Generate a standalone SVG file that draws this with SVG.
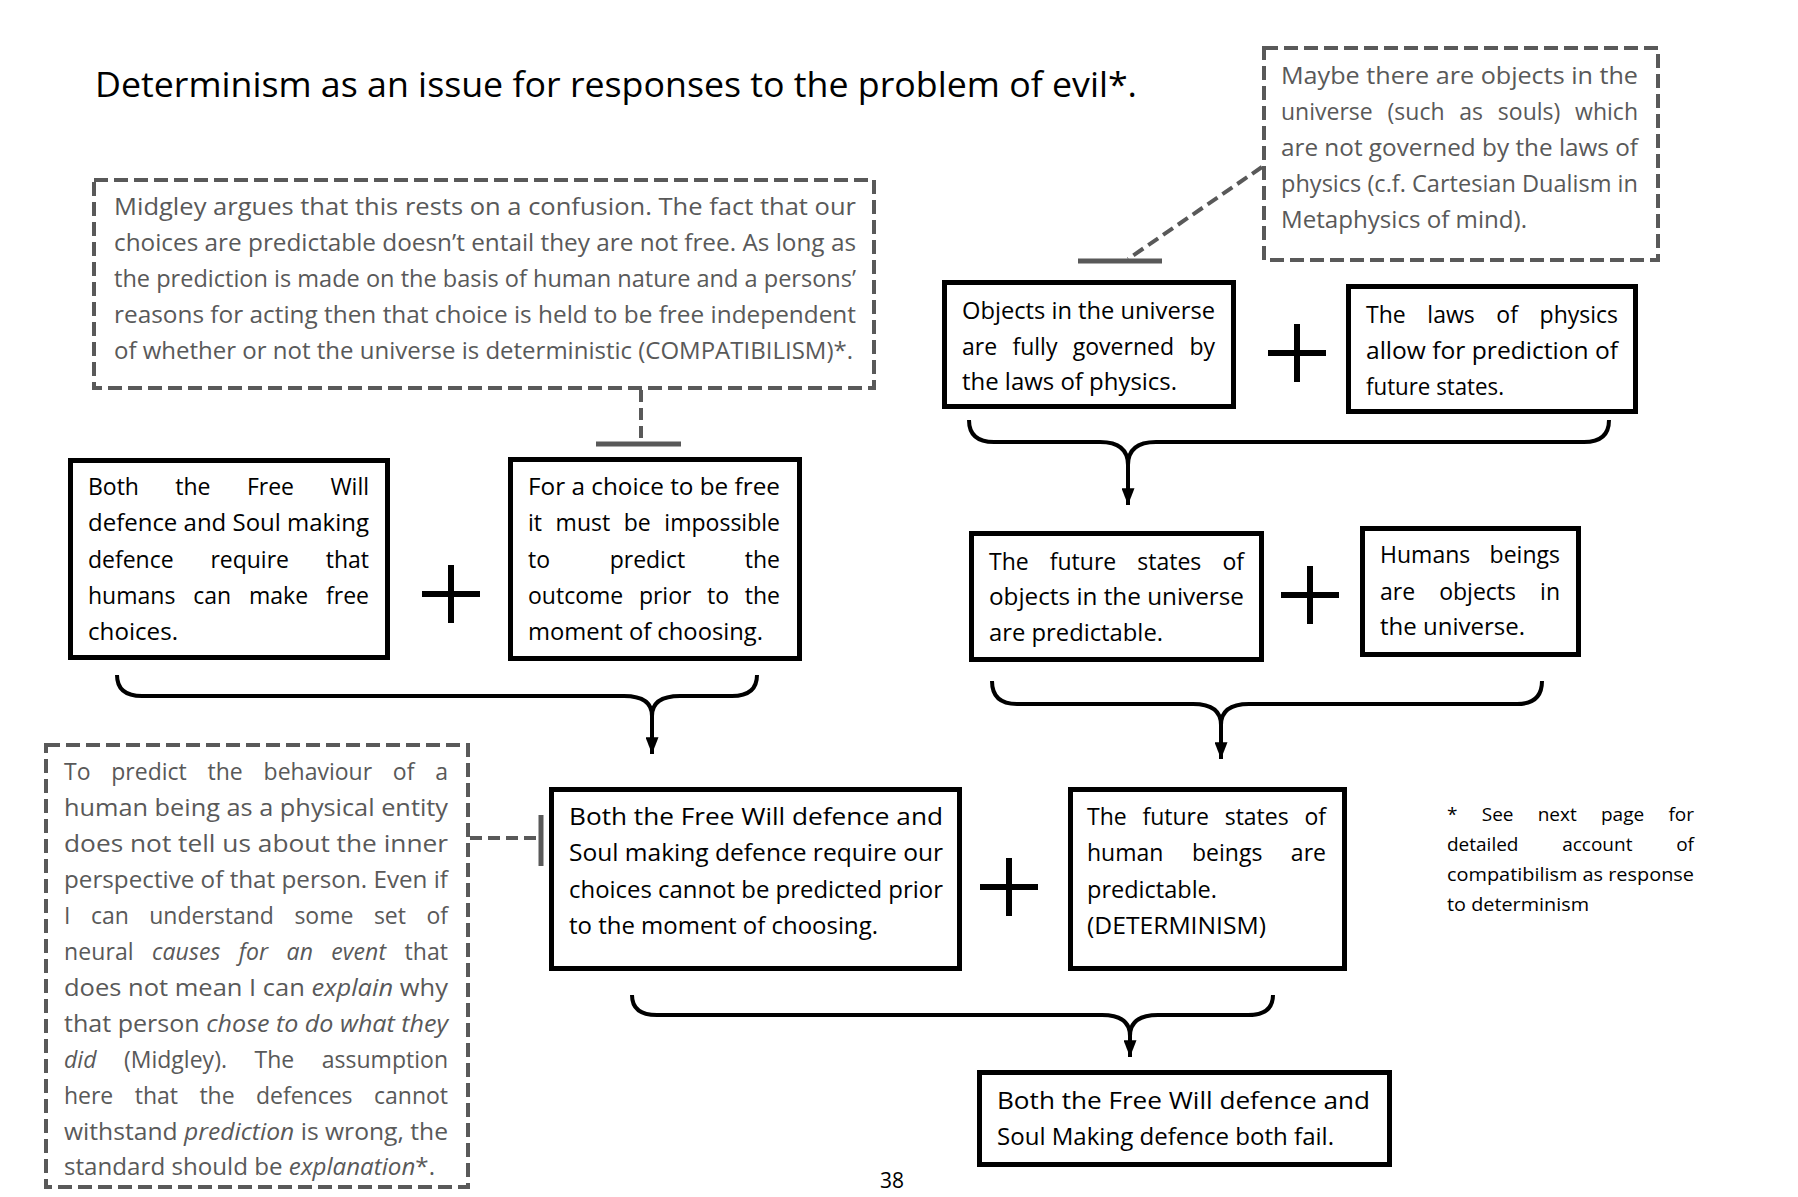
<svg xmlns="http://www.w3.org/2000/svg" width="1798" height="1197" viewBox="0 0 1798 1197">
<style>
.t{font-family:'Open Sans','Liberation Sans',sans-serif;font-size:23px;fill:#000}
.f{font-size:19px}
.g{fill:#595959}
.i{font-style:italic}
.bx{fill:#fff;stroke:#000;stroke-width:5}
.dbx{fill:#fff;stroke:#595959;stroke-width:4;stroke-dasharray:14 6}
.brace{fill:none;stroke:#000;stroke-width:4}
.shaft{stroke:#000;stroke-width:4;fill:none}
.plus{stroke:#000;stroke-width:6;fill:none}
.dash{stroke:#595959;stroke-width:4;stroke-dasharray:12 6;fill:none}
.bar{stroke:#595959;stroke-width:5}
</style>
<defs>
<marker id="arr" viewBox="0 0 18 14" refX="18" refY="7" markerWidth="18" markerHeight="13" markerUnits="userSpaceOnUse" orient="auto">
<path d="M0,0 L18,7 L0,14 z" fill="#000"/>
</marker>
</defs>
<rect width="1798" height="1197" fill="#fff"/>

<text class="t" x="95" y="97" style="font-size:35px" textLength="1042" lengthAdjust="spacingAndGlyphs">Determinism as an issue for responses to the problem of evil*.</text>

<g id="connectors">
<path class="dash" d="M641,390 V443"/>
<line class="bar" x1="596" y1="444" x2="681" y2="444"/>
<path class="dash" d="M1262,167 L1128,259"/>
<line class="bar" x1="1078" y1="261" x2="1162" y2="261"/>
<path class="dash" d="M470,838 H539"/>
<line class="bar" x1="541" y1="815" x2="541" y2="866"/>
<path class="brace" d="M969,420 Q969,442 994,442 H1100 Q1128,442 1128,465 Q1128,442 1156,442 H1584 Q1609,442 1609,420"/>
<line class="shaft" x1="1128" y1="465" x2="1128" y2="505" marker-end="url(#arr)"/>
<path class="brace" d="M992,681 Q992,704 1017,704 H1193 Q1221,704 1221,725 Q1221,704 1249,704 H1517 Q1542,704 1542,681"/>
<line class="shaft" x1="1221" y1="725" x2="1221" y2="759" marker-end="url(#arr)"/>
<path class="brace" d="M117,675 Q117,696 142,696 H624 Q652,696 652,716 Q652,696 680,696 H732 Q757,696 757,675"/>
<line class="shaft" x1="652" y1="716" x2="652" y2="754" marker-end="url(#arr)"/>
<path class="brace" d="M632,995 Q632,1015 657,1015 H1102 Q1130,1015 1130,1036 Q1130,1015 1158,1015 H1248 Q1273,1015 1273,995"/>
<line class="shaft" x1="1130" y1="1036" x2="1130" y2="1057" marker-end="url(#arr)"/>
</g>

<g id="operators">
<path class="plus" d="M1268,353 H1326 M1297,324 V382"/>
<path class="plus" d="M1281,595 H1339 M1310,566 V624"/>
<path class="plus" d="M422,594 H480 M451,565 V623"/>
<path class="plus" d="M980,887 H1038 M1009,858 V916"/>
</g>

<g id="midgley">
<rect class="dbx" x="94" y="180" width="780" height="208"/>
<text class="t g" x="114" y="215" textLength="742" lengthAdjust="spacingAndGlyphs">Midgley argues that this rests on a confusion. The fact that our</text>
<text class="t g" x="114" y="251" textLength="742" lengthAdjust="spacingAndGlyphs">choices are predictable doesn’t entail they are not free. As long as</text>
<text class="t g" x="114" y="287" textLength="742" lengthAdjust="spacingAndGlyphs">the prediction is made on the basis of human nature and a persons’</text>
<text class="t g" x="114" y="323" textLength="742" lengthAdjust="spacingAndGlyphs">reasons for acting then that choice is held to be free independent</text>
<text class="t g" x="114" y="359" textLength="739" lengthAdjust="spacingAndGlyphs">of whether or not the universe is deterministic (COMPATIBILISM)*.</text>
</g>

<g id="souls">
<rect class="dbx" x="1264" y="48" width="394" height="212"/>
<text class="t g" x="1281" y="84" textLength="357" lengthAdjust="spacingAndGlyphs">Maybe there are objects in the</text>
<text class="t g" x="1281" y="120" style="word-spacing:8.8px" textLength="357" lengthAdjust="spacing">universe (such as souls) which</text>
<text class="t g" x="1281" y="156" textLength="357" lengthAdjust="spacingAndGlyphs">are not governed by the laws of</text>
<text class="t g" x="1281" y="192" textLength="357" lengthAdjust="spacingAndGlyphs">physics (c.f. Cartesian Dualism in</text>
<text class="t g" x="1281" y="228" textLength="246" lengthAdjust="spacingAndGlyphs">Metaphysics of mind).</text>
</g>

<g id="objects-governed">
<rect class="bx" x="944.5" y="282.5" width="289" height="124"/>
<text class="t" x="962" y="319" textLength="253" lengthAdjust="spacingAndGlyphs">Objects in the universe</text>
<text class="t" x="962" y="355" style="word-spacing:9.3px" textLength="253" lengthAdjust="spacing">are fully governed by</text>
<text class="t" x="962" y="390" textLength="215" lengthAdjust="spacingAndGlyphs">the laws of physics.</text>
</g>

<g id="laws-prediction">
<rect class="bx" x="1348.5" y="286.5" width="287" height="125"/>
<text class="t" x="1366" y="323" style="word-spacing:15.7px" textLength="252" lengthAdjust="spacing">The laws of physics</text>
<text class="t" x="1366" y="359" textLength="252" lengthAdjust="spacingAndGlyphs">allow for prediction of</text>
<text class="t" x="1366" y="395" textLength="138" lengthAdjust="spacingAndGlyphs">future states.</text>
</g>

<g id="objects-predictable">
<rect class="bx" x="971.5" y="533.5" width="290" height="126"/>
<text class="t" x="989" y="570" style="word-spacing:15.2px" textLength="255" lengthAdjust="spacing">The future states of</text>
<text class="t" x="989" y="605" textLength="255" lengthAdjust="spacingAndGlyphs">objects in the universe</text>
<text class="t" x="989" y="641" textLength="174" lengthAdjust="spacingAndGlyphs">are predictable.</text>
</g>

<g id="humans-objects">
<rect class="bx" x="1362.5" y="528.5" width="216" height="126"/>
<text class="t" x="1380" y="563" style="word-spacing:13.2px" textLength="180" lengthAdjust="spacing">Humans beings</text>
<text class="t" x="1380" y="600" style="word-spacing:18.1px" textLength="180" lengthAdjust="spacing">are objects in</text>
<text class="t" x="1380" y="635" textLength="145" lengthAdjust="spacingAndGlyphs">the universe.</text>
</g>

<g id="defences-require-free">
<rect class="bx" x="70.5" y="460.5" width="317" height="197"/>
<text class="t" x="88" y="495" style="word-spacing:30.5px" textLength="281" lengthAdjust="spacing">Both the Free Will</text>
<text class="t" x="88" y="531" textLength="281" lengthAdjust="spacingAndGlyphs">defence and Soul making</text>
<text class="t" x="88" y="567.5" style="word-spacing:30.8px" textLength="281" lengthAdjust="spacing">defence require that</text>
<text class="t" x="88" y="604" style="word-spacing:11.9px" textLength="281" lengthAdjust="spacing">humans can make free</text>
<text class="t" x="88" y="640" textLength="90" lengthAdjust="spacingAndGlyphs">choices.</text>
</g>

<g id="free-unpredictable">
<rect class="bx" x="510.5" y="459.5" width="289" height="199"/>
<text class="t" x="528" y="495" textLength="252" lengthAdjust="spacingAndGlyphs">For a choice to be free</text>
<text class="t" x="528" y="531" style="word-spacing:7.6px" textLength="252" lengthAdjust="spacing">it must be impossible</text>
<text class="t" x="528" y="567.5" style="word-spacing:53.8px" textLength="252" lengthAdjust="spacing">to predict the</text>
<text class="t" x="528" y="604" style="word-spacing:9.7px" textLength="252" lengthAdjust="spacing">outcome prior to the</text>
<text class="t" x="528" y="640" textLength="235" lengthAdjust="spacingAndGlyphs">moment of choosing.</text>
</g>

<g id="explanation-note">
<rect class="dbx" x="46" y="745" width="422" height="442"/>
<text class="t g" x="64" y="780" style="word-spacing:14.8px" textLength="384" lengthAdjust="spacing">To predict the behaviour of a</text>
<text class="t g" x="64" y="816" textLength="384" lengthAdjust="spacingAndGlyphs">human being as a physical entity</text>
<text class="t g" x="64" y="852" textLength="384" lengthAdjust="spacingAndGlyphs">does not tell us about the inner</text>
<text class="t g" x="64" y="888" textLength="384" lengthAdjust="spacingAndGlyphs">perspective of that person. Even if</text>
<text class="t g" x="64" y="924" style="word-spacing:14.5px" textLength="384" lengthAdjust="spacing">I can understand some set of</text>
<text class="t g" x="64" y="960" style="word-spacing:12.2px" textLength="384" lengthAdjust="spacing">neural <tspan class="i">causes for an event</tspan> that</text>
<text class="t g" x="64" y="996" textLength="384" lengthAdjust="spacingAndGlyphs">does not mean I can <tspan class="i">explain</tspan> why</text>
<text class="t g" x="64" y="1032" textLength="384" lengthAdjust="spacingAndGlyphs">that person <tspan class="i">chose to do what they</tspan></text>
<text class="t g" x="64" y="1068" style="word-spacing:21.5px" textLength="384" lengthAdjust="spacing"><tspan class="i">did</tspan> (Midgley). The assumption</text>
<text class="t g" x="64" y="1104" style="word-spacing:15.5px" textLength="384" lengthAdjust="spacing">here that the defences cannot</text>
<text class="t g" x="64" y="1140" textLength="384" lengthAdjust="spacingAndGlyphs">withstand <tspan class="i">prediction</tspan> is wrong, the</text>
<text class="t g" x="64" y="1175" textLength="371" lengthAdjust="spacingAndGlyphs">standard should be <tspan class="i">explanation</tspan>*.</text>
</g>

<g id="defences-require-unpredictable">
<rect class="bx" x="551.5" y="789.5" width="408" height="179"/>
<text class="t" x="569" y="825" textLength="374" lengthAdjust="spacingAndGlyphs">Both the Free Will defence and</text>
<text class="t" x="569" y="861" textLength="374" lengthAdjust="spacingAndGlyphs">Soul making defence require our</text>
<text class="t" x="569" y="898" textLength="374" lengthAdjust="spacingAndGlyphs">choices cannot be predicted prior</text>
<text class="t" x="569" y="934" textLength="309" lengthAdjust="spacingAndGlyphs">to the moment of choosing.</text>
</g>

<g id="determinism">
<rect class="bx" x="1070.5" y="789.5" width="274" height="179"/>
<text class="t" x="1087" y="825" style="word-spacing:9.9px" textLength="239" lengthAdjust="spacing">The future states of</text>
<text class="t" x="1087" y="861" style="word-spacing:22.5px" textLength="239" lengthAdjust="spacing">human beings are</text>
<text class="t" x="1087" y="898" textLength="130" lengthAdjust="spacingAndGlyphs">predictable.</text>
<text class="t" x="1087" y="934" textLength="179" lengthAdjust="spacingAndGlyphs">(DETERMINISM)</text>
</g>

<g id="conclusion">
<rect class="bx" x="979.5" y="1072.5" width="410" height="92"/>
<text class="t" x="997" y="1109" textLength="373" lengthAdjust="spacingAndGlyphs">Both the Free Will defence and</text>
<text class="t" x="997" y="1145" textLength="337" lengthAdjust="spacingAndGlyphs">Soul Making defence both fail.</text>
</g>

<g id="footnote">
<text class="t f" x="1447" y="821" style="word-spacing:19.3px" textLength="247" lengthAdjust="spacing">* See next page for</text>
<text class="t f" x="1447" y="851" style="word-spacing:38.8px" textLength="247" lengthAdjust="spacing">detailed account of</text>
<text class="t f" x="1447" y="881" textLength="247" lengthAdjust="spacingAndGlyphs">compatibilism as response</text>
<text class="t f" x="1447" y="911" textLength="142" lengthAdjust="spacingAndGlyphs">to determinism</text>
</g>

<text class="t" style="font-size:21px" x="880" y="1188">38</text>
</svg>
